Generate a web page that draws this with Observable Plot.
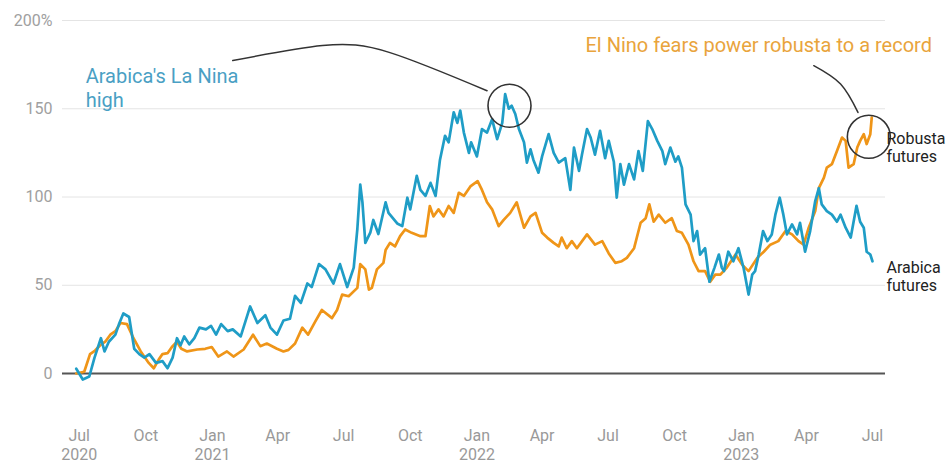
<!DOCTYPE html>
<html><head><meta charset="utf-8">
<script src="https://cdn.jsdelivr.net/npm/d3@7"></script>
<script src="https://cdn.jsdelivr.net/npm/@observablehq/plot@0.6"></script>
<style>
html,body{margin:0;padding:0;background:#fff;}
#chart{width:949px;height:464px;overflow:hidden;}
</style></head><body><div id="chart"></div>
<script>
// ---- Data (percent change) ----
const arabicaDates = ["2020-06-27","2020-07-06","2020-07-15","2020-07-22","2020-07-31","2020-08-05","2020-08-11","2020-08-20","2020-08-25","2020-08-31","2020-09-08","2020-09-15","2020-09-22","2020-09-29","2020-10-06","2020-10-15","2020-10-24","2020-10-31","2020-11-07","2020-11-13","2020-11-18","2020-11-23","2020-11-30","2020-12-07","2020-12-14","2020-12-23","2020-12-30","2021-01-06","2021-01-13","2021-01-22","2021-01-29","2021-02-09","2021-02-22","2021-03-04","2021-03-15","2021-03-22","2021-03-31","2021-04-09","2021-04-18","2021-04-25","2021-05-03","2021-05-12","2021-05-18","2021-05-28","2021-06-06","2021-06-17","2021-06-26","2021-07-06","2021-07-15","2021-07-20","2021-07-24","2021-07-27","2021-07-31","2021-08-07","2021-08-11","2021-08-18","2021-08-28","2021-09-01","2021-09-13","2021-09-20","2021-09-27","2021-10-01","2021-10-10","2021-10-15","2021-10-22","2021-10-29","2021-11-05","2021-11-11","2021-11-18","2021-11-23","2021-11-30","2021-12-05","2021-12-09","2021-12-14","2021-12-21","2021-12-24","2022-01-01","2022-01-08","2022-01-15","2022-01-22","2022-01-29","2022-02-05","2022-02-09","2022-02-14","2022-02-18","2022-02-23","2022-02-28","2022-03-07","2022-03-11","2022-03-16","2022-03-20","2022-03-27","2022-04-01","2022-04-10","2022-04-17","2022-04-24","2022-05-03","2022-05-10","2022-05-15","2022-05-22","2022-05-26","2022-06-02","2022-06-07","2022-06-13","2022-06-20","2022-06-27","2022-07-02","2022-07-09","2022-07-13","2022-07-18","2022-07-23","2022-07-30","2022-08-06","2022-08-12","2022-08-18","2022-08-25","2022-08-31","2022-09-07","2022-09-14","2022-09-18","2022-09-25","2022-10-02","2022-10-06","2022-10-11","2022-10-16","2022-10-23","2022-10-27","2022-11-01","2022-11-05","2022-11-12","2022-11-18","2022-11-25","2022-12-01","2022-12-05","2022-12-08","2022-12-14","2022-12-21","2022-12-28","2023-01-04","2023-01-11","2023-01-16","2023-01-20","2023-01-25","2023-01-31","2023-02-06","2023-02-12","2023-02-17","2023-02-23","2023-02-28","2023-03-05","2023-03-12","2023-03-19","2023-03-23","2023-03-30","2023-04-06","2023-04-13","2023-04-18","2023-04-22","2023-04-29","2023-05-06","2023-05-13","2023-05-18","2023-05-25","2023-06-01","2023-06-09","2023-06-14","2023-06-19","2023-06-23","2023-06-28","2023-07-01"];
const arabicaValues = [2.7,-3.4,-1.7,8.7,20,12.5,18,22,28,34,32,14,11,9,11,6,7,3,9,20,16,21,16.5,20,26,25,27,22,28,24,25,21,38,28.6,33,26,22,30,31,44,40,51,49,62,59,51,62,49,60,82,107,97,74,80,87,79,97,91,85,83.5,99.6,93,112,104,100.6,108,100.6,121,134.7,131,148,142,149,136.5,125,131,123,138.5,136.5,144,132.8,142,158.3,150,151.7,147,138.5,131,119.5,127,121,113.8,123,135.6,125,119.5,122,104,128,114.8,124,138.5,133.7,124,137.5,122,131.8,120,99.6,118.6,107,118.6,110,126,114.8,143,138.5,131.8,126,118.6,128,120,123,116.6,95.8,90,75,80.7,67.4,71,52,60,67.4,60,58,69,63.6,71,60,44.7,56,58,67.4,80.7,75,78.8,90,99.6,90,78.8,84.5,78.8,85.4,69,80.7,97.7,105,95.8,92,90,86,90,82.6,77,95,86,82.6,69,67.4,63.6];

const robustaDates = ["2020-06-27","2020-07-08","2020-07-16","2020-07-23","2020-07-30","2020-08-06","2020-08-13","2020-08-20","2020-08-27","2020-09-05","2020-09-14","2020-09-24","2020-10-05","2020-10-12","2020-10-19","2020-10-24","2020-10-31","2020-11-06","2020-11-13","2020-11-19","2020-11-27","2020-12-11","2020-12-22","2020-12-31","2021-01-09","2021-01-21","2021-01-30","2021-02-13","2021-02-26","2021-03-08","2021-03-17","2021-03-31","2021-04-09","2021-04-16","2021-04-25","2021-05-05","2021-05-13","2021-05-23","2021-06-01","2021-06-15","2021-06-22","2021-06-29","2021-07-08","2021-07-20","2021-07-24","2021-07-31","2021-08-05","2021-08-09","2021-08-16","2021-08-25","2021-08-28","2021-09-03","2021-09-10","2021-09-17","2021-09-24","2021-10-03","2021-10-15","2021-10-22","2021-10-28","2021-11-02","2021-11-09","2021-11-16","2021-11-23","2021-11-30","2021-12-07","2021-12-14","2021-12-23","2022-01-02","2022-01-08","2022-01-15","2022-01-22","2022-01-31","2022-02-07","2022-02-16","2022-02-25","2022-03-07","2022-03-16","2022-03-23","2022-04-01","2022-04-08","2022-04-17","2022-04-24","2022-04-28","2022-05-05","2022-05-12","2022-05-19","2022-06-02","2022-06-13","2022-06-23","2022-07-02","2022-07-11","2022-07-20","2022-07-27","2022-08-06","2022-08-15","2022-08-22","2022-08-27","2022-09-02","2022-09-09","2022-09-18","2022-09-27","2022-10-04","2022-10-11","2022-10-20","2022-10-27","2022-11-03","2022-11-12","2022-11-19","2022-11-26","2022-12-03","2022-12-12","2022-12-24","2023-01-02","2023-01-11","2023-01-23","2023-02-01","2023-02-10","2023-02-21","2023-03-03","2023-03-12","2023-03-21","2023-03-28","2023-04-04","2023-04-13","2023-04-18","2023-04-25","2023-04-29","2023-05-06","2023-05-13","2023-05-20","2023-05-25","2023-05-29","2023-06-05","2023-06-10","2023-06-14","2023-06-19","2023-06-23","2023-06-28","2023-06-30"];
const robustaValues = [0,1,11,13,16,18,22,24,28.6,28,20,12.5,6,3,8,11,11.5,15,18,14,12.5,13.6,14,15,9.6,12.5,9.6,13.6,22,15.5,17,14,12.5,13.4,17,26,22,29.5,36,31.4,36,44.7,43.8,48.5,62,59,47.5,48.5,59,62.7,70,74,72,77.8,81.6,79.7,77.8,77.8,94.9,89,93,89,94.9,91,102.4,100.6,106,109,104,97,93,83.5,87,91,97,82.6,89,91,79.7,77,74,72,77,71,75,71,78.8,73,75,68,62.7,63.6,65.5,71,85.4,88,95.8,86,90,85.4,88,80.7,79.7,73,63.6,58,58,52,56,56,60,67.4,61.7,58,65.5,69,73,75,80.7,78.8,75,73,82.6,92,105,111,116.6,118.6,126,133.7,131.8,116.6,118.6,128,131.8,135.6,130,135.6,145];

// axis ticks
const yTicks = [0, 50, 100, 150, 200];
const gridValues = [50, 100, 150, 200];
const xTickDates = ["2020-07-01","2020-10-01","2021-01-01","2021-04-01","2021-07-01","2021-10-01","2022-01-01","2022-04-01","2022-07-01","2022-10-01","2023-01-01","2023-04-01","2023-07-01"];
const xTickLabels = ["Jul\n2020","Oct","Jan\n2021","Apr","Jul","Oct","Jan\n2022","Apr","Jul","Oct","Jan\n2023","Apr","Jul"];

// annotations
const circleDates = ["2022-02-15", "2023-06-26"];
const circleValues = [151.7, 134.1];
const leader1Dates = ["2021-01-29", "2021-06-02", "2021-09-03", "2022-01-15"];
const leader1Values = [177.3, 185.8, 181.8, 160.2];
const leader2Dates = ["2023-04-11", "2023-05-18", "2023-06-11"];
const leader2Values = [174.4, 164, 147.9];
const noteTexts = ["Arabica's La Nina\nhigh", "El Nino fears power robusta to a record"];
const noteDates = ["2020-07-10", "2023-01-25"];
const noteValues = [174, 190];
const seriesLabels = ["Robusta\nfutures", "Arabica\nfutures"];
const seriesLabelValues = [128.4, 55.1];
const seriesLabelDate = "2023-07-01";

// ---- Build ----
const parse = d3.utcParse("%Y-%m-%d");
const arabica = arabicaDates.map((d, i) => ({date: parse(d), value: arabicaValues[i]}));
const robusta = robustaDates.map((d, i) => ({date: parse(d), value: robustaValues[i]}));
const tickDates = xTickDates.map(parse);
const tickLabelMap = new Map(tickDates.map((d, i) => [+d, xTickLabels[i]]));
const circles = circleDates.map((d, i) => ({date: parse(d), value: circleValues[i]}));
const leader1 = leader1Dates.map((d, i) => ({date: parse(d), value: leader1Values[i]}));
const leader2 = leader2Dates.map((d, i) => ({date: parse(d), value: leader2Values[i]}));
const notes = noteTexts.map((t, i) => ({text: t, date: parse(noteDates[i]), value: noteValues[i]}));
const slabels = seriesLabels.map((t, i) => ({text: t, date: parse(seriesLabelDate), value: seriesLabelValues[i]}));

const BLUE = "#1f9dc6";
const ORANGE = "#ef9518";

const chart = Plot.plot({
  width: 949,
  height: 464,
  marginLeft: 62,
  marginRight: 64,
  marginTop: 20,
  marginBottom: 91,
  style: {fontFamily: "Roboto, sans-serif", background: "#fff", overflow: "visible"},
  x: {type: "utc", domain: [parse("2020-06-08"), parse("2023-07-19")]},
  y: {domain: [0, 200]},
  marks: [
    Plot.ruleY(gridValues, {stroke: "#e4e4e4", strokeWidth: 1}),
    Plot.axisY({ticks: yTicks, tickSize: 0, tickPadding: 10, label: null,
      tickFormat: d => d === 200 ? "200%" : String(d), fontSize: 16, color: "#a0a0a0"}),
    Plot.axisX({ticks: tickDates, tickSize: 0, tickPadding: 54, label: null,
      tickFormat: d => tickLabelMap.get(+d), fontSize: 16, lineHeight: 1.2, color: "#999"}),
    Plot.ruleY([0], {stroke: "#555", strokeWidth: 2}),
    Plot.lineY(robusta, {x: "date", y: "value", stroke: ORANGE, strokeWidth: 2.7, strokeLinejoin: "round"}),
    Plot.lineY(arabica, {x: "date", y: "value", stroke: BLUE, strokeWidth: 2.7, strokeLinejoin: "round"}),
    Plot.line(leader1, {x: "date", y: "value", curve: "natural", stroke: "#333", strokeWidth: 1.5}),
    Plot.line(leader2, {x: "date", y: "value", curve: "natural", stroke: "#333", strokeWidth: 1.5}),
    Plot.dot(circles, {x: "date", y: "value", r: 21.5, stroke: "#333", strokeWidth: 1.6, fill: "none"}),
    Plot.text(notes.slice(0, 1), {x: "date", y: "value", text: "text", textAnchor: "start", lineAnchor: "top",
      fontSize: 20, lineHeight: 1.2, fill: "#4a9fc4"}),
    Plot.text(notes.slice(1), {x: "date", y: "value", text: "text", textAnchor: "middle", lineAnchor: "top",
      fontSize: 20, fill: "#e9a43c"}),
    Plot.text(slabels, {x: "date", y: "value", text: "text", textAnchor: "start", lineAnchor: "middle",
      dx: 14, fontSize: 16, lineHeight: 1.15, fill: "#222"})
  ]
});
document.getElementById("chart").appendChild(chart);
</script>
</body></html>
